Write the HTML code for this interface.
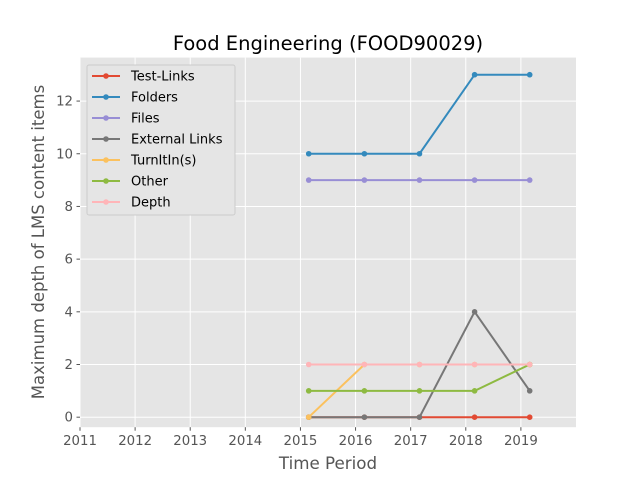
<!DOCTYPE html>
<html><head><meta charset="utf-8"><style>
body{margin:0;background:#fff;font-family:"DejaVu Sans","Liberation Sans",sans-serif}
</style></head><body>
<svg id="chart" width="640" height="480" xmlns="http://www.w3.org/2000/svg" font-family="DejaVu Sans, Liberation Sans, sans-serif">
<rect width="640" height="480" fill="#fff"/>
<rect x="80" y="57.6" width="496" height="369.6" fill="#e5e5e5"/>
<g id="grid"></g><g id="axes"></g><g id="series"></g><g id="legend"></g>
<text x="328" y="50" text-anchor="middle" font-size="19.5" fill="#000">Food Engineering (FOOD90029)</text>
<text x="328" y="469" text-anchor="middle" font-size="16.7" fill="#555">Time Period</text>
<text transform="translate(44,242) rotate(-90)" text-anchor="middle" font-size="16.5" fill="#555">Maximum depth of LMS content items</text>
</svg>
<script>
const dates=[2015.15,2016.16,2017.16,2018.16,2019.16];
const seriesNames=["Test-Links","Folders","Files","External Links","TurnItIn(s)","Other","Depth"];
const testLinks=[0,0,0,0,0];
const folders=[10,10,10,13,13];
const files=[9,9,9,9,9];
const externalLinks=[0,0,0,4,1];
const turnitin=[0,2,2,2,2];
const other=[1,1,1,1,2];
const depth=[2,2,2,2,2];
const xTicks=[2011,2012,2013,2014,2015,2016,2017,2018,2019];
const yTicks=[0,2,4,6,8,10,12];
const colors=["#E24A33","#348ABD","#988ED5","#777777","#FBC15E","#8EBA42","#FFB5B8"];
const allSeries=[testLinks,folders,files,externalLinks,turnitin,other,depth];
const NS="http://www.w3.org/2000/svg";
const L=80,R=576,T=57.6,B=427.2;
const xMin=2011,xMax=2020,yMin=-0.38,yMax=13.65;
const X=v=>L+(v-xMin)/(xMax-xMin)*(R-L);
const Y=v=>B-(v-yMin)/(yMax-yMin)*(B-T);
function mk(tag,attrs,parent){const e=document.createElementNS(NS,tag);for(const k in attrs)e.setAttribute(k,attrs[k]);parent.appendChild(e);return e;}
const grid=document.getElementById('grid'),axes=document.getElementById('axes'),ser=document.getElementById('series'),leg=document.getElementById('legend');
xTicks.forEach(t=>{const x=X(t);
 const g=mk('line',{x1:x,x2:x,y1:T,y2:B,stroke:'#fff','stroke-width':1},grid);
 
 
 mk('line',{x1:x,x2:x,y1:B,y2:B+3.5,stroke:'#555'},axes);
 const tx=mk('text',{x:x,y:B+18,'text-anchor':'middle','font-size':13.3,fill:'#555'},axes);tx.textContent=t;
 
 
});
yTicks.forEach(t=>{const y=Y(t);
 const g=mk('line',{x1:L,x2:R,y1:y,y2:y,stroke:'#fff','stroke-width':1},grid);
 
 
 mk('line',{x1:L-3.5,x2:L,y1:y,y2:y,stroke:'#555'},axes);
 const tx=mk('text',{x:L-7,y:y+4.5,'text-anchor':'end','font-size':13.3,fill:'#555'},axes);tx.textContent=t;
 
 
});
allSeries.forEach((s,i)=>{
 const g=mk('g',{},ser);
 
 
 mk('polyline',{points:s.map((v,j)=>X(dates[j])+','+Y(v)).join(' '),fill:'none',stroke:colors[i],'stroke-width':2},g);
 s.forEach((v,j)=>{const c=mk('circle',{cx:X(dates[j]),cy:Y(v),r:2.8,fill:colors[i]},g);
  
  });
});
const lb=mk('rect',{x:87,y:65,width:148,height:150,fill:'#e5e5e5',stroke:'#ccc','stroke-width':1,rx:2},leg);


seriesNames.forEach((n,i)=>{const y=76+i*21;
 const g=mk('g',{},leg);
 
 
 mk('line',{x1:92,x2:120,y1:y,y2:y,stroke:colors[i],'stroke-width':2},g);
 mk('circle',{cx:106,cy:y,r:2.8,fill:colors[i]},g);
 const t=mk('text',{x:131,y:y+4.5,'font-size':13,fill:'#000'},g);t.textContent=n;
});
</script>
</body></html>
